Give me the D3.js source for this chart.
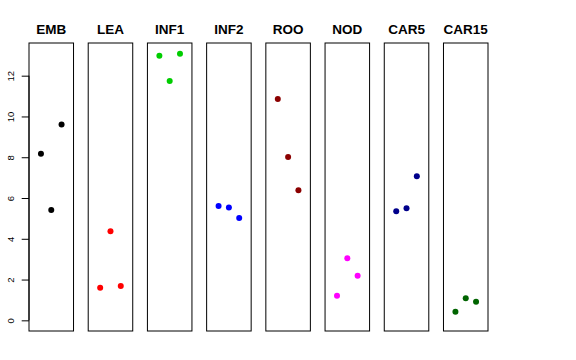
<!DOCTYPE html>
<html>
<head>
<meta charset="utf-8">
<script src="https://cdn.jsdelivr.net/npm/d3@7"></script>
<style>
  html, body { margin: 0; padding: 0; background: #fff; }
  svg { display: block; }
</style>
</head>
<body>
<svg id="chart" width="576" height="360"></svg>
<script>
const categories = ["EMB", "LEA", "INF1", "INF2", "ROO", "NOD", "CAR5", "CAR15"];
const colors = ["#000000", "#FF0000", "#00CD00", "#0000FF", "#8B0000", "#FF00FF", "#00008B", "#006400"];
const rep1 = [8.17, 1.60, 12.98, 5.61, 10.86, 1.21, 5.35, 0.42];
const rep2 = [5.41, 4.37, 11.74, 5.54, 8.01, 3.04, 5.50, 1.08];
const rep3 = [9.60, 1.68, 13.08, 5.02, 6.38, 2.19, 7.07, 0.91];
const yTicks = [0, 2, 4, 6, 8, 10, 12];

(function () {
const svg = d3.select("#chart");
const plotTop = 43, plotBottom = 331;

const yMax = d3.max([...rep1, ...rep2, ...rep3]);
const pad = 0.04 * yMax;
const y = d3.scaleLinear().domain([0 - pad, yMax + pad]).range([plotBottom, plotTop]);

const band = d3.scaleBand().domain(categories).range([29, 488]).paddingInner(0.248).paddingOuter(0).align(0);
const xi = d3.scaleLinear().domain([-0.16, 4.16]).range([0, band.bandwidth()]);

categories.forEach((cat, i) => {
  const g = svg.append("g").attr("transform", `translate(${band(cat)},0)`);
  g.append("rect")
    .attr("x", 0).attr("y", plotTop)
    .attr("width", band.bandwidth()).attr("height", plotBottom - plotTop)
    .attr("fill", "none").attr("stroke", "#000").attr("stroke-width", 1);
  g.append("text")
    .attr("x", band.bandwidth() / 2).attr("y", 34.3)
    .attr("text-anchor", "middle")
    .attr("font-family", "Liberation Sans, Arial, Helvetica, sans-serif")
    .attr("font-weight", "bold").attr("font-size", "13.5px")
    .text(cat);
  const vals = [rep1[i], rep2[i], rep3[i]];
  g.selectAll("circle").data(vals).enter().append("circle")
    .attr("cx", (d, j) => xi(j + 1))
    .attr("cy", d => y(d))
    .attr("r", 3)
    .attr("fill", colors[i]);
});

const axisG = svg.append("g").attr("transform", `translate(${band(categories[0])},0)`);
axisG.call(d3.axisLeft(y).tickValues(yTicks).tickSize(7.3).tickPadding(0).tickFormat(d3.format("d")));
axisG.select(".domain").remove();
axisG.selectAll(".tick line").attr("stroke", "#000");
axisG.selectAll(".tick text")
  .attr("font-family", "Liberation Sans, Arial, Helvetica, sans-serif")
  .attr("font-size", "9.5px")
  .attr("fill", "#000")
  .attr("x", null).attr("dy", null)
  .attr("text-anchor", "middle")
  .attr("transform", "translate(-18.5,0) rotate(-90)")
  .attr("y", 3.4);
axisG.append("line")
  .attr("x1", 0).attr("x2", 0)
  .attr("y1", y(0)).attr("y2", y(12))
  .attr("stroke", "#000");
})();
</script>
</body>
</html>
